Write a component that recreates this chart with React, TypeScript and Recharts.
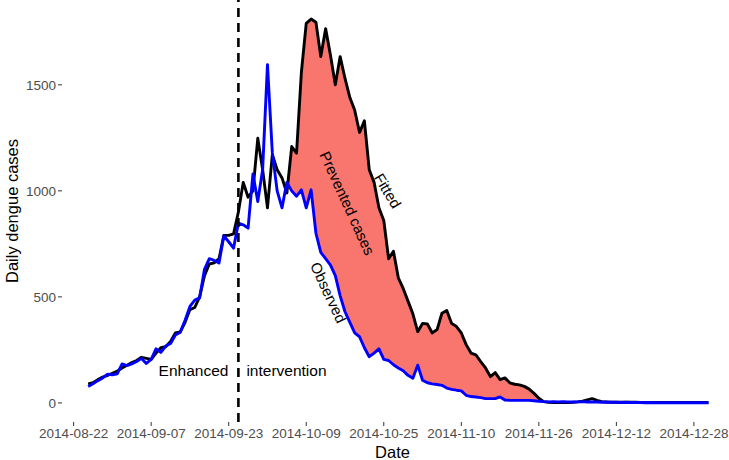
import React from 'react';
import { ComposedChart, Line, Area, XAxis, YAxis, ReferenceLine, ReferenceDot } from 'recharts';

// ---- data ----
const AXIS_ORIGIN = '2014-08-22';
const FIRST_DATE = '2014-08-25'; // first daily observation
const xTickDates = ['2014-08-22', '2014-09-07', '2014-09-23', '2014-10-09', '2014-10-25', '2014-11-10', '2014-11-26', '2014-12-12', '2014-12-28'];
const yTicks = [0, 500, 1000, 1500];
const interventionDate = '2014-09-25';
const preventedFrom = '2014-10-05';
const preventedTo = '2014-11-27';

const observed = [
  77, 90, 105, 118, 135, 133, 137, 184, 176, 184,
  195, 210, 186, 205, 255, 238, 268, 280, 320, 333,
  390, 455, 485, 495, 630, 680, 672, 660, 788, 760,
  730, 848, 840, 824, 1080, 950, 1100, 1595, 1180, 1000,
  920, 1040, 1000, 975, 1005, 920, 1005, 800, 710, 680,
  650, 600, 505, 430, 380, 330, 312, 260, 218, 235,
  255, 205, 200, 180, 165, 152, 130, 116, 178, 107,
  95, 90, 87, 83, 70, 64, 60, 57, 36, 30,
  28, 25, 20, 20, 20, 28, 14, 12, 12, 12,
  12, 12, 10, 8, 6, 5, 6, 5, 6, 5,
  4, 5, 6, 4, 5, 4, 3, 4, 3, 3,
  2, 3, 2, 2, 2, 1, 2, 1, 1, 1,
  1, 1, 1, 1, 1, 1, 1, 1, 1,
];

const fitted = [
  90, 95, 110, 122, 130, 140, 150, 165, 178, 190,
  200, 215, 210, 205, 235, 260, 265, 290, 330, 335,
  380, 440, 450, 500, 600, 655, 660, 680, 790, 790,
  797, 900, 1040, 970, 1000, 1248, 1100, 920, 1170, 1100,
  1061, 990, 1209, 1178, 1560, 1790, 1810, 1795, 1633, 1765,
  1640, 1500, 1633, 1530, 1440, 1380, 1275, 1330, 1100, 1040,
  920, 860, 680, 715, 590, 540, 480, 420, 336, 375,
  372, 330, 346, 423, 436, 375, 360, 330, 275, 235,
  227, 195, 165, 124, 143, 110, 118, 95, 88, 85,
  78, 65, 45, 22, 6, 3, 2, 2, 2, 2,
  3, 5, 8, 14, 20, 12, 6, 4, 3, 3,
  3, 3, 3, 3, 2, 2, 2, 2, 2, 2,
  2, 2, 2, 2, 2, 2, 2, 2, 2,
];

const annotations = [
  { text: 'Prevented cases', date: '2014-10-17T12:00', value: 942, angle: 65.6 },
  { text: 'Fitted', date: '2014-10-25T20:00', value: 1001, angle: 59 },
  { text: 'Observed', date: '2014-10-13T14:00', value: 521, angle: 65 },
];

// ---- helpers ----
const DAY = 86400000;
const toMs = (s: string) => Date.parse(s.length > 10 ? s + ':00Z' : s + 'T00:00:00Z');
const dayOf = (s: string) => (toMs(s) - toMs(AXIS_ORIGIN)) / DAY;
const dateOf = (d: number) => new Date(toMs(AXIS_ORIGIN) + Math.round(d) * DAY).toISOString().slice(0, 10);

const firstDay = dayOf(FIRST_DATE);
const bandFrom = dayOf(preventedFrom);
const bandTo = dayOf(preventedTo);

const data = observed.map((obs, i) => {
  const day = firstDay + i;
  const fit = fitted[i];
  return {
    day,
    observed: obs,
    fitted: fit,
    band: day >= bandFrom && day <= bandTo ? [obs, Math.max(obs, fit)] : null,
  };
});

const xTicks = xTickDates.map(dayOf);

const FONT = '"Liberation Sans", Arial, sans-serif';

const rotatedText = (text: string, angle: number) => (props: any) => {
  const { cx, cy } = props;
  return (
    <text
      x={cx}
      y={cy}
      transform={`rotate(${angle}, ${cx}, ${cy})`}
      textAnchor="middle"
      dominantBaseline="central"
      fontSize={15}
      fontFamily={FONT}
      fill="#000"
    >
      {text}
    </text>
  );
};

const interventionText = (props: any) => {
  const { cx, cy } = props;
  return (
    <g>
      <text x={cx - 10} y={cy} textAnchor="end" dominantBaseline="central" fontSize={15.5} fontFamily={FONT} fill="#000">
        Enhanced
      </text>
      <text x={cx + 8} y={cy} textAnchor="start" dominantBaseline="central" fontSize={15.5} fontFamily={FONT} fill="#000">
        intervention
      </text>
    </g>
  );
};

export default function App() {
  return (
    <div style={{ position: 'fixed', top: 0, left: 0, width: 729, height: 460, background: '#fff' }}>
      <ComposedChart
        width={729}
        height={460}
        data={data}
        margin={{ top: 0, right: 6, bottom: 0, left: 0 }}
        style={{ fontFamily: FONT }}
      >
        <XAxis
          dataKey="day"
          type="number"
          domain={[-2.4, 134]}
          ticks={xTicks}
          interval={0}
          tickFormatter={dateOf}
          height={38}
          axisLine={false}
          tickSize={4}
          tickMargin={2}
          tickLine={{ stroke: '#333333', strokeWidth: 1 }}
          tick={{ fill: '#4D4D4D', fontSize: 13.5 }}
          label={{ value: 'Date', position: 'insideBottom', offset: 2, fill: '#000', fontSize: 16.5 }}
        />
        <YAxis
          type="number"
          domain={[-90, 1900]}
          ticks={yTicks}
          interval={0}
          width={62}
          axisLine={false}
          tickSize={4}
          tickMargin={2}
          tickLine={{ stroke: '#333333', strokeWidth: 1 }}
          tick={{ fill: '#4D4D4D', fontSize: 13.5 }}
          label={{
            value: 'Daily dengue cases',
            angle: -90,
            position: 'insideLeft',
            offset: 12,
            fill: '#000',
            fontSize: 16.5,
            style: { textAnchor: 'middle' },
          }}
        />
        <Area
          dataKey="band"
          type="linear"
          stroke="none"
          fill="#F8766D"
          fillOpacity={1}
          isAnimationActive={false}
          connectNulls={false}
          activeDot={false}
        />
        <Line dataKey="fitted" type="linear" stroke="#000000" strokeWidth={2.9} dot={false} strokeLinejoin="round" isAnimationActive={false} />
        <Line dataKey="observed" type="linear" stroke="#0000FF" strokeWidth={2.9} dot={false} strokeLinejoin="round" isAnimationActive={false} />
        <ReferenceLine x={dayOf(interventionDate)} stroke="#000" strokeWidth={2.6} strokeDasharray="9 6" />
        <ReferenceDot x={dayOf(interventionDate)} y={151} r={0} shape={interventionText} />
        {annotations.map((a) => (
          <ReferenceDot key={a.text} x={dayOf(a.date)} y={a.value} r={0} shape={rotatedText(a.text, a.angle)} />
        ))}
      </ComposedChart>
    </div>
  );
}
